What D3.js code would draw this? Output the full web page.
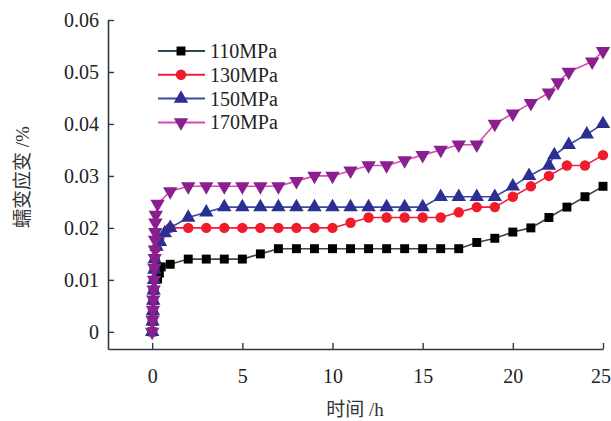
<!DOCTYPE html>
<html>
<head>
<meta charset="utf-8">
<script src="https://cdn.jsdelivr.net/npm/d3@7"></script>
<style>
  body { margin: 0; background: #fff; }
  svg text { font-family: "Liberation Serif", "Noto Sans CJK SC", serif; }
</style>
</head>
<body>
<svg id="chart" width="611" height="421"></svg>
<script>
// series names
let seriesNames = ["110MPa", "130MPa", "150MPa", "170MPa"];

// time (h) and creep strain (%)
let t110 = [0, 0.02, 0.04, 0.06, 0.1, 0.3, 0.4, 0.5, 1, 2, 3, 4, 5, 6, 7, 8, 9, 10, 11, 12, 13, 14, 15, 16, 17, 18, 19, 20, 21, 22, 23, 24, 25];
let v110 = [0, 0.002, 0.004, 0.006, 0.008, 0.0102, 0.0113, 0.0125, 0.013, 0.014, 0.014, 0.014, 0.014, 0.015, 0.016, 0.016, 0.016, 0.016, 0.016, 0.016, 0.016, 0.016, 0.016, 0.016, 0.016, 0.0172, 0.018, 0.0192, 0.020, 0.022, 0.024, 0.026, 0.028];

let t130 = [0, 0.02, 0.04, 0.06, 0.08, 0.1, 0.12, 0.15, 0.2, 0.4, 1, 2, 3, 4, 5, 6, 7, 8, 9, 10, 11, 12, 13, 14, 15, 16, 17, 18, 19, 20, 21, 22, 23, 24, 25];
let v130 = [0, 0.002, 0.004, 0.006, 0.008, 0.010, 0.012, 0.014, 0.016, 0.018, 0.020, 0.020, 0.020, 0.020, 0.020, 0.020, 0.020, 0.020, 0.020, 0.020, 0.021, 0.022, 0.022, 0.022, 0.022, 0.022, 0.023, 0.024, 0.024, 0.026, 0.028, 0.030, 0.032, 0.032, 0.034];

let t150 = [0, 0.02, 0.04, 0.06, 0.08, 0.1, 0.12, 0.14, 0.24, 0.43, 0.7, 1, 2, 3, 4, 5, 6, 7, 8, 9, 10, 11, 12, 13, 14, 15, 16, 17, 18, 19, 20, 20.9, 22, 22.3, 23.1, 24.1, 25];
let v150 = [0, 0.002, 0.004, 0.006, 0.008, 0.010, 0.012, 0.014, 0.0164, 0.0173, 0.019, 0.020, 0.022, 0.023, 0.024, 0.024, 0.024, 0.024, 0.024, 0.024, 0.024, 0.024, 0.024, 0.024, 0.024, 0.024, 0.026, 0.026, 0.026, 0.026, 0.028, 0.030, 0.032, 0.034, 0.036, 0.038, 0.040];

let t170 = [0, 0.02, 0.04, 0.06, 0.08, 0.1, 0.12, 0.14, 0.15, 0.16, 0.17, 0.18, 0.2, 0.3, 1, 2, 3, 4, 5, 6, 7, 8, 9, 10, 11, 12, 13, 14, 15, 16, 17, 18, 19, 20, 21, 22, 22.5, 23.1, 24.4, 25];
let v170 = [0, 0.0023, 0.0042, 0.0062, 0.0081, 0.010, 0.0123, 0.0142, 0.0158, 0.0177, 0.0192, 0.021, 0.0225, 0.0246, 0.027, 0.028, 0.028, 0.028, 0.028, 0.028, 0.028, 0.029, 0.030, 0.030, 0.031, 0.032, 0.032, 0.033, 0.034, 0.035, 0.036, 0.036, 0.040, 0.042, 0.044, 0.046, 0.048, 0.050, 0.052, 0.054];

let xTicks = [0, 5, 10, 15, 20, 25];
let yTicks = [0, 0.01, 0.02, 0.03, 0.04, 0.05, 0.06];

let svg = d3.select("#chart");

let x = d3.scaleLinear().domain([-2.45, 25]).range([108, 603]);
let y = d3.scaleLinear().domain([-0.0033, 0.06]).range([349, 20]);

let axisColor = "#2d3b40";

// x axis, ticks pointing up into the plot
let gx = svg.append("g")
    .attr("transform", "translate(0,349)")
    .call(d3.axisBottom(x).tickValues(xTicks).tickSizeInner(-6).tickSizeOuter(0).tickPadding(20));
gx.select(".domain").attr("stroke", axisColor).attr("stroke-width", 1.6);
gx.selectAll(".tick line").attr("stroke", axisColor).attr("stroke-width", 1.4);
gx.selectAll(".tick text").attr("font-size", "20px").attr("fill", "#222");
// last label sits right on the page edge
gx.selectAll(".tick text").filter(function(d) { return d === 25; }).attr("dx", "-2.5");

// y axis, ticks pointing right
let gy = svg.append("g")
    .attr("transform", "translate(108,0)")
    .call(d3.axisLeft(y).tickValues(yTicks).tickSizeInner(-6).tickSizeOuter(0).tickPadding(9)
        .tickFormat(function(d) { return d === 0 ? "0" : d3.format(".2f")(d); }));
gy.select(".domain").attr("stroke", axisColor).attr("stroke-width", 1.6);
gy.selectAll(".tick line").attr("stroke", axisColor).attr("stroke-width", 1.4);
gy.selectAll(".tick text").attr("font-size", "20px").attr("fill", "#222");

// axis titles
svg.append("text")
    .attr("x", 355)
    .attr("y", 416)
    .attr("text-anchor", "middle")
    .attr("font-size", "19px")
    .attr("fill", "#333")
    .text("时间 /h");

svg.append("text")
    .attr("transform", "translate(29,177) rotate(-90)")
    .attr("text-anchor", "middle")
    .attr("font-size", "19px")
    .attr("fill", "#333")
    .text("蠕变应变 /%");

let series = [
    { name: seriesNames[0], t: t110, v: v110, line: "#2e4a52", mark: "#000000", sym: d3.symbolSquare, size: 80, rot: 0 },
    { name: seriesNames[1], t: t130, v: v130, line: "#ee1d3f", mark: "#f01c2c", sym: d3.symbolCircle, size: 85, rot: 0 },
    { name: seriesNames[2], t: t150, v: v150, line: "#3a48a8", mark: "#2b2f92", sym: d3.symbolTriangle, size: 90, rot: 0 },
    { name: seriesNames[3], t: t170, v: v170, line: "#d94aae", mark: "#8a1f8f", sym: d3.symbolTriangle, size: 90, rot: 180 }
];

let line = d3.line()
    .x(function(d) { return x(d[0]); })
    .y(function(d) { return y(d[1]); });

series.forEach(function(s) {
    let pts = s.t.map(function(t, i) { return [t, s.v[i]]; });
    let g = svg.append("g");

    g.append("path")
        .datum(pts)
        .attr("fill", "none")
        .attr("stroke", s.line)
        .attr("stroke-width", 1.6)
        .attr("d", line);

    g.selectAll(".pt")
        .data(pts)
        .enter().append("path")
        .attr("class", "pt")
        .attr("fill", s.mark)
        .attr("d", d3.symbol().type(s.sym).size(s.size))
        .attr("transform", function(d) {
            return "translate(" + x(d[0]) + "," + y(d[1]) + ") rotate(" + s.rot + ")";
        });
});

// legend
let legend = svg.append("g");
series.forEach(function(s, i) {
    let ly = 51 + i * 23.8;
    legend.append("line")
        .attr("x1", 158).attr("x2", 205)
        .attr("y1", ly).attr("y2", ly)
        .attr("stroke", s.line)
        .attr("stroke-width", 2);
    legend.append("path")
        .attr("fill", s.mark)
        .attr("d", d3.symbol().type(s.sym).size(s.size))
        .attr("transform", "translate(181," + ly + ") rotate(" + s.rot + ")");
    legend.append("text")
        .attr("x", 210)
        .attr("y", ly)
        .attr("dy", "0.35em")
        .attr("font-size", "20px")
        .attr("fill", "#222")
        .text(s.name);
});
</script>
</body>
</html>
